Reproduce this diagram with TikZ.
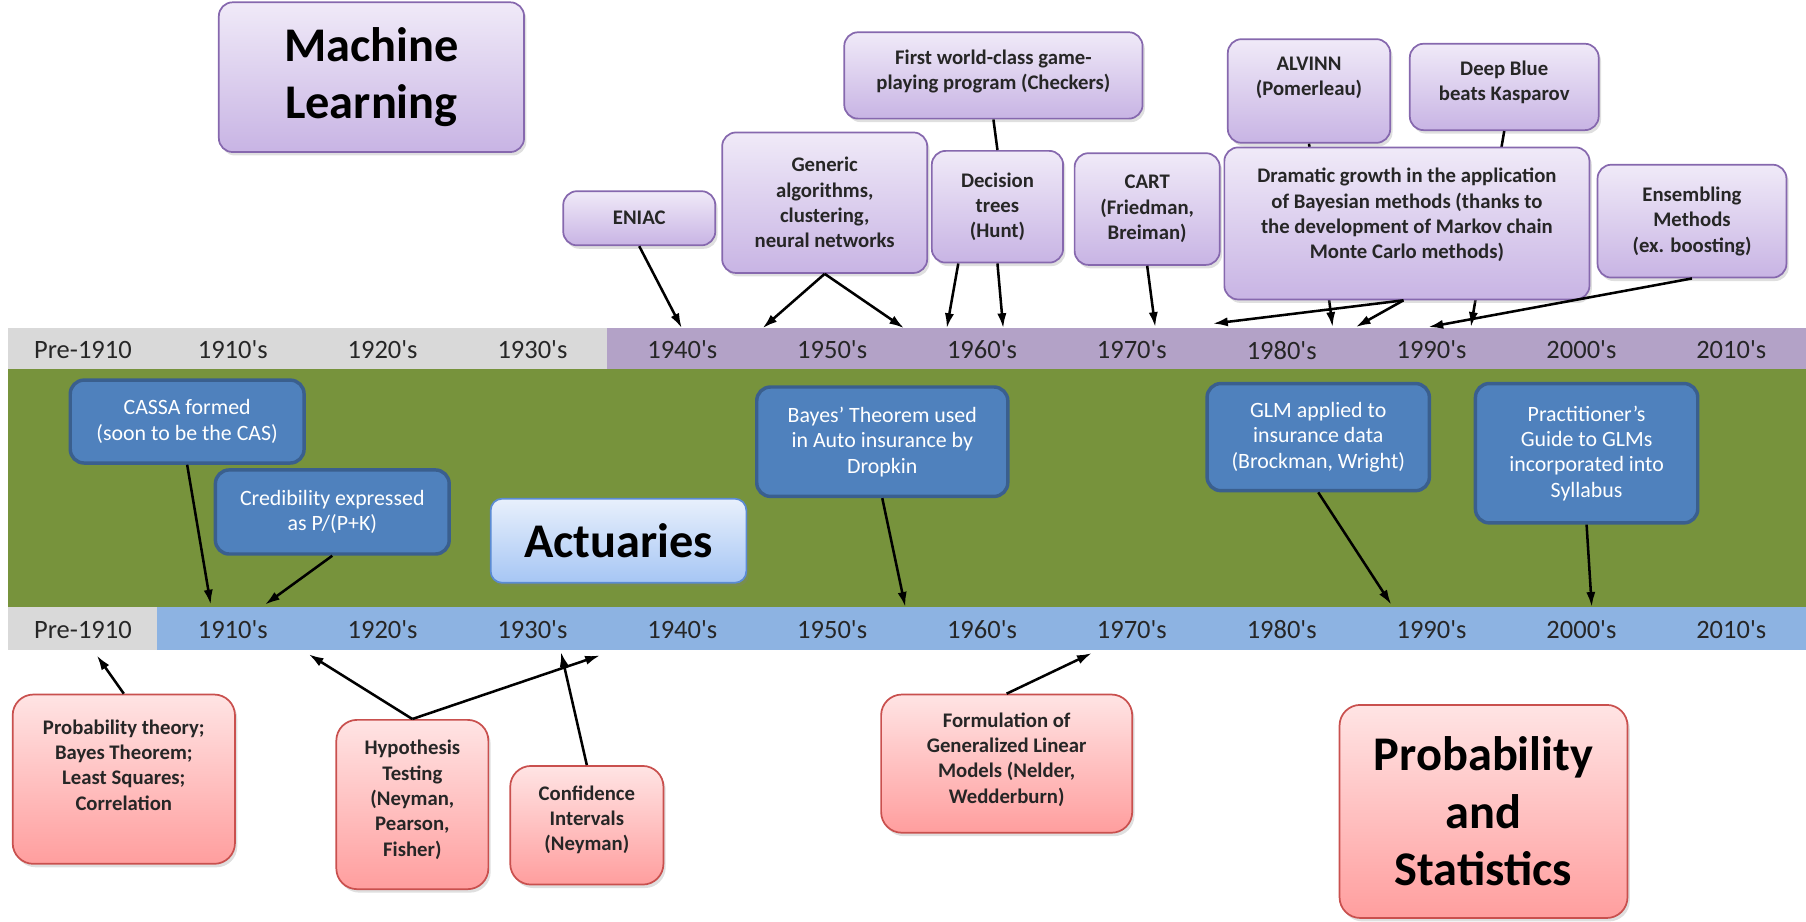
\documentclass[tikz,border=0pt]{standalone}
\usepackage{fontspec}
\setmainfont{Carlito}
\usetikzlibrary{arrows.meta,shadows}

\definecolor{barGray}{HTML}{D9D9D9}
\definecolor{barPurple}{HTML}{B3A2C7}
\definecolor{bandGreen}{HTML}{77933C}
\definecolor{barBlue}{HTML}{8DB3E2}
\definecolor{mlTop}{HTML}{F0EAF8}
\definecolor{mlBot}{HTML}{C8B4E4}
\definecolor{mlLine}{HTML}{8668AE}
\definecolor{actFill}{HTML}{4F81BD}
\definecolor{actLine}{HTML}{3A5F8E}
\definecolor{actTop}{HTML}{E8F0FC}
\definecolor{actBot}{HTML}{A6C6F4}
\definecolor{actTitleLine}{HTML}{5B8BD3}
\definecolor{stTop}{HTML}{FFE4E4}
\definecolor{stBot}{HTML}{FF9E9E}
\definecolor{stLine}{HTML}{C9504E}
\definecolor{yearText}{HTML}{262626}

\begin{document}
\begin{tikzpicture}[x=1pt,y=-1pt,
    boxshadow/.style={drop shadow={shadow xshift=2pt,shadow yshift=-3pt,opacity=0.25}},
    mlbox/.style={draw=mlLine,line width=1.5pt,rounded corners=12pt,top color=mlTop,bottom color=mlBot,
        align=center,inner sep=0pt,text=black!85,font=\fontsize{18}{22}\selectfont\bfseries,boxshadow},
    actbox/.style={draw=actLine,line width=3pt,fill=actFill,rounded corners=12pt,
        align=center,inner sep=0pt,text=white,font=\fontsize{19}{22}\selectfont},
    actuarybox/.style={draw=actTitleLine,line width=1.5pt,rounded corners=10pt,top color=actTop,bottom color=actBot,
        align=center,inner sep=0pt,boxshadow},
    stbox/.style={draw=stLine,line width=1.5pt,rounded corners=18pt,top color=stTop,bottom color=stBot,
        align=center,inner sep=0pt,text=black!85,font=\fontsize{18}{22}\selectfont\bfseries,boxshadow},
    title/.style={text=black,font=\fontsize{42}{50}\selectfont\bfseries},
    yearlbl/.style={text=yearText,font=\fontsize{23}{26}\selectfont},
    link/.style={line width=2.2pt,-{Latex[length=13pt,width=8pt]}},
    joinline/.style={line width=2.2pt}]

    \useasboundingbox (0,0) rectangle (1568,800);

    % timeline bars
    \fill[barGray] (7,285) rectangle (527,320);
    \fill[barPurple] (527,285) rectangle (1568,320);
    \fill[bandGreen] (7,320) rectangle (1568,527);
    \fill[barGray] (7,527) rectangle (136,564);
    \fill[barBlue] (136,527) rectangle (1568,564);

    \node[yearlbl] (toppre) at (72,304) {Pre-1910};
    \node[yearlbl] (botpre) at (72,547) {Pre-1910};
    \foreach \yr [count=\i] in {1910,1920,...,2010} {
        \node[yearlbl] (top\yr) at (72+130.1*\i,304) {\yr\textquotesingle s};
        \node[yearlbl] (bot\yr) at (72+130.1*\i,547) {\yr\textquotesingle s};
    }

    % arrow ends on the bars
    \coordinate (eniacEnd) at (592,285);
    \coordinate (genL) at (662,285);
    \coordinate (genR) at (785,285);
    \coordinate (dtL) at (822,285);
    \coordinate (dtR) at (871,285);
    \coordinate (cartEnd) at (1003,284);
    \coordinate (alvEnd) at (1157,284);
    \coordinate (dbEnd) at (1277,284);
    \coordinate (dgL) at (1053,281);
    \coordinate (dgR) at (1177,284);
    \coordinate (ensEnd) at (1240,284);
    \coordinate (cassaEnd) at (183,525);
    \coordinate (credEnd) at (230,525);
    \coordinate (dropkinEnd) at (786,527);
    \coordinate (glmEnd) at (1208,525);
    \coordinate (guideEnd) at (1382,527);
    \coordinate (probEnd) at (84,569);
    \coordinate (hypL) at (268,568);
    \coordinate (hypR) at (521,569);
    \coordinate (confEnd) at (487,566);
    \coordinate (formEnd) at (948,567);

    % machine learning
    \node[mlbox,title,minimum width=265pt,minimum height=130pt] (ml) at (322.5,67) {Machine\\Learning};
    \node[mlbox,minimum width=141pt,minimum height=90pt,text depth=25pt] (alvinn) at (1136.5,79) {ALVINN\\(Pomerleau)};
    \node[mlbox,minimum width=164pt,minimum height=75pt,text depth=11pt] (dblue) at (1306,75.5) {Deep Blue\\beats Kasparov};
    \draw[link] (alvinn.south) -- (alvEnd);
    \draw[link] (dblue.south) -- (dbEnd);
    \node[mlbox,minimum width=132pt,minimum height=47pt] (eniac) at (555,189.5) {ENIAC};
    \node[mlbox,minimum width=178pt,minimum height=122pt] (gen) at (716,176) {Generic\\algorithms,\\clustering,\\neural networks};
    \node[mlbox,minimum width=259pt,minimum height=75pt,text depth=10pt] (chk) at (862.5,65.5) {First world-class game-\\playing program (Checkers)};
    \node[mlbox,minimum width=114pt,minimum height=97pt] (dtree) at (866,179.5) {Decision\\trees\\(Hunt)};
    \node[mlbox,minimum width=126pt,minimum height=97pt] (cart) at (996,181.5) {CART\\(Friedman,\\Breiman)};
    \node[mlbox,minimum width=317pt,minimum height=132pt,text depth=17pt] (bayesgrowth) at (1221.5,194) {Dramatic growth in the application\\of Bayesian methods (thanks to\\the development of Markov chain\\Monte Carlo methods)};
    \node[mlbox,minimum width=164pt,minimum height=98pt] (ensemble) at (1469,192) {Ensembling\\Methods\\(ex. boosting)};

    \draw[link] (eniac.south) -- (eniacEnd);
    \draw[link] (gen.south) -- (genL);
    \draw[link] (gen.south) -- (genR);
    \draw[joinline] (chk.south) -- (dtree.north);
    \draw[link] ([xshift=-34pt]dtree.south) -- (dtL);
    \draw[link] (dtree.south) -- (dtR);
    \draw[link] (cart.south) -- (cartEnd);
    \draw[link] ([xshift=-3pt]bayesgrowth.south) -- (dgL);
    \draw[link] ([xshift=-3pt]bayesgrowth.south) -- (dgR);
    \draw[link] (ensemble.south) -- (ensEnd);

    % actuaries
    \node[actbox,minimum width=203pt,minimum height=72pt] (cassa) at (162.5,366) {CASSA formed\\(soon to be the CAS)};
    \node[actbox,minimum width=203pt,minimum height=73pt] (cred) at (288.5,444.5) {Credibility expressed\\as P/(P+K)};
    \node[actuarybox,title,minimum width=222pt,minimum height=73pt] (actuaries) at (537,469.5) {Actuaries};
    \node[actbox,minimum width=218pt,minimum height=95pt] (dropkin) at (766,383.5) {Bayes' Theorem used\\in Auto insurance by\\Dropkin};
    \node[actbox,minimum width=193pt,minimum height=93pt] (glm) at (1144.5,379.5) {GLM applied to\\insurance data\\(Brockman, Wright)};
    \node[actbox,minimum width=193pt,minimum height=121pt] (guide) at (1377.5,393.5) {Practitioner's\\Guide to GLMs\\incorporated into\\Syllabus};

    \draw[link] (cassa.south) -- (cassaEnd);
    \draw[link] (cred.south) -- (credEnd);
    \draw[link] (dropkin.south) -- (dropkinEnd);
    \draw[link] (glm.south) -- (glmEnd);
    \draw[link] (guide.south) -- (guideEnd);

    % probability and statistics
    \node[stbox,minimum width=193pt,minimum height=147pt,text depth=25pt] (probth) at (107.5,676.5) {Probability theory;\\Bayes Theorem;\\Least Squares;\\Correlation};
    \node[stbox,minimum width=132pt,minimum height=147pt,text depth=11pt] (hyptest) at (358,698.5) {Hypothesis\\Testing\\(Neyman,\\Pearson,\\Fisher)};
    \node[stbox,minimum width=133pt,minimum height=103pt,text depth=12pt] (confint) at (509.5,716.5) {Confidence\\Intervals\\(Neyman)};
    \node[stbox,minimum width=218pt,minimum height=120pt,text depth=10pt] (glmform) at (874,663) {Formulation of\\Generalized Linear\\Models (Nelder,\\Wedderburn)};
    \node[stbox,title,minimum width=250pt,minimum height=185pt] (probstat) at (1288,704.5) {Probability\\and\\Statistics};

    \draw[link] (probth.north) -- (probEnd);
    \draw[link] (hyptest.north) -- (hypL);
    \draw[link] (hyptest.north) -- (hypR);
    \draw[link] (confint.north) -- (confEnd);
    \draw[link] (glmform.north) -- (formEnd);
\end{tikzpicture}
\end{document}
